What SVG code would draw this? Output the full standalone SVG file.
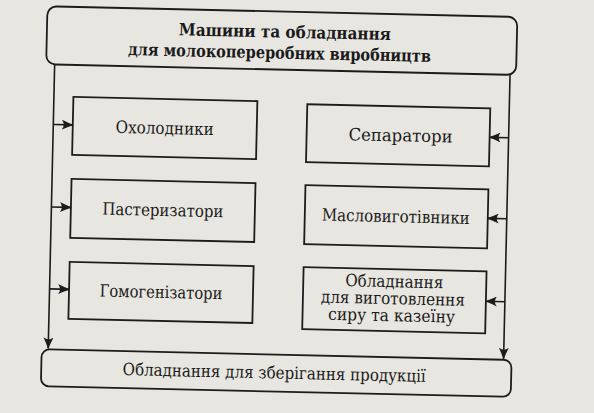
<svg xmlns="http://www.w3.org/2000/svg" width="594" height="413" viewBox="0 0 594 413">
<style>
.bg{fill:#e8e6e0}
.box{fill:none;stroke:#1c1c1c;stroke-width:1.8}
.line{fill:none;stroke:#1c1c1c;stroke-width:1.6}
.t{font-family:"DejaVu Serif","Liberation Serif",serif;font-size:17px;fill:#1a1a1a;text-anchor:middle}
.tb{font-family:"DejaVu Serif","Liberation Serif",serif;font-size:17px;font-weight:bold;fill:#1a1a1a;text-anchor:middle}
</style>
<defs>
<marker id="arr" viewBox="0 0 12 10" refX="11" refY="5" markerWidth="12" markerHeight="10" markerUnits="userSpaceOnUse" orient="auto">
<path d="M0,0 Q6,3 12,5 Q6,7 0,10 Q4,5 0,0 z" fill="#1c1c1c"/>
</marker>
</defs>
<rect class="bg" x="0" y="0" width="594" height="413"/>
<g transform="rotate(1.3 297 206)">
<g id="connectors">
<path class="line" d="M51.5,70 V354" marker-end="url(#arr)"/>
<path class="line" d="M51.5,130 H71" marker-end="url(#arr)"/>
<path class="line" d="M51.5,212.5 H71" marker-end="url(#arr)"/>
<path class="line" d="M51.5,294.5 H71" marker-end="url(#arr)"/>
<path class="line" d="M507,70 V354" marker-end="url(#arr)"/>
<path class="line" d="M507,133 H488" marker-end="url(#arr)"/>
<path class="line" d="M507,214 H488" marker-end="url(#arr)"/>
<path class="line" d="M507,297 H488" marker-end="url(#arr)"/>
</g>
<g id="root">
<rect class="box" x="43" y="12" width="470" height="58" rx="9"/>
<text class="tb" x="281" y="38" textLength="212" lengthAdjust="spacingAndGlyphs">Машини та обладнання</text>
<text class="tb" x="276" y="59" textLength="303" lengthAdjust="spacingAndGlyphs">для молокопереробних виробництв</text>
</g>
<g id="coolers">
<rect class="box" x="71" y="102" width="184" height="58"/>
<text class="t" x="163" y="137" textLength="98" lengthAdjust="spacingAndGlyphs">Охолодники</text>
</g>
<g id="pasteurizers">
<rect class="box" x="71" y="184" width="184" height="59"/>
<text class="t" x="163" y="219" textLength="121" lengthAdjust="spacingAndGlyphs">Пастеризатори</text>
</g>
<g id="homogenizers">
<rect class="box" x="71" y="267" width="184" height="57"/>
<text class="t" x="163" y="301" textLength="123" lengthAdjust="spacingAndGlyphs">Гомогенізатори</text>
</g>
<g id="separators">
<rect class="box" x="305" y="104" width="183" height="58"/>
<text class="t" x="399" y="139" textLength="104" lengthAdjust="spacingAndGlyphs">Сепаратори</text>
</g>
<g id="butter">
<rect class="box" x="305" y="185" width="183" height="59"/>
<text class="t" x="396" y="220" textLength="148" lengthAdjust="spacingAndGlyphs">Масловиготівники</text>
</g>
<g id="cheese">
<rect class="box" x="305" y="267" width="183" height="62"/>
<text class="t" x="396" y="285" textLength="98" lengthAdjust="spacingAndGlyphs">Обладнання</text>
<text class="t" x="395" y="302" textLength="144" lengthAdjust="spacingAndGlyphs">для виготовлення</text>
<text class="t" x="394" y="319" textLength="127" lengthAdjust="spacingAndGlyphs">сиру та казеїну</text>
</g>
<g id="storage">
<rect class="box" x="45" y="355" width="470" height="37" rx="8"/>
<text class="t" x="278" y="379" textLength="303" lengthAdjust="spacingAndGlyphs">Обладнання для зберігання продукції</text>
</g>
</g>
</svg>
